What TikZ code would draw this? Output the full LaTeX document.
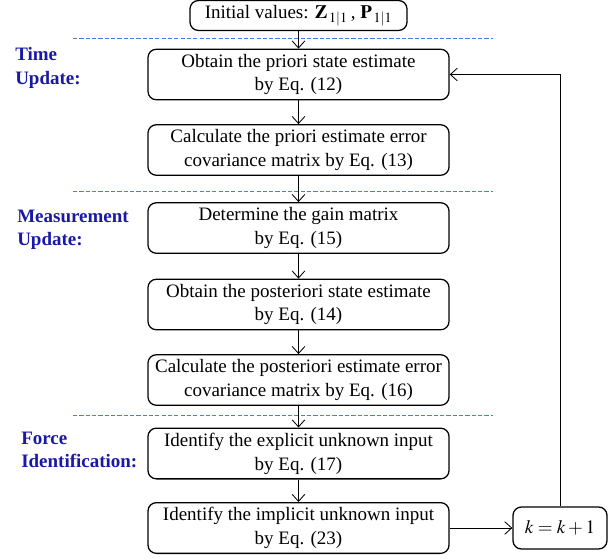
\documentclass[tikz,border=0pt]{standalone}
\usepackage{mathptmx}
\usepackage{fontspec}
\setmainfont{Liberation Serif}
\usetikzlibrary{arrows.meta, positioning}
\definecolor{labelblue}{RGB}{25,25,165}
\definecolor{sepblue}{RGB}{70,125,225}

\begin{document}
\begin{tikzpicture}[x=0.025cm, y=-0.025cm,
  every node/.style={font=\fontsize{13.5}{17}\selectfont},
  stepbox/.style={draw, line width=0.9pt, rounded corners=6pt, align=center,
    minimum width=7.525cm, minimum height=1.25cm, inner xsep=2pt},
  stagelabel/.style={anchor=west, align=left, inner sep=0pt, text=labelblue,
    font=\fontsize{13.5}{16.5}\selectfont\bfseries},
  separator/.style={sepblue, line width=0.6pt, dash pattern=on 3pt off 1.5pt},
  flow/.style={-{Straight Barb[length=5pt,width=9pt]}, semithick}]
  \useasboundingbox (0,0) rectangle (616,558);
  % ---------- initial values ----------
  \node[stepbox, minimum width=5.425cm, minimum height=0.675cm] (init) at (298.5,15.5)
    {Initial values: $\mathbf{Z}_{\,1|1}$\,, $\mathbf{P}_{\,1|1}$};
  % ---------- time update ----------
  \node[stepbox] (prioriest) at (298.5,74.5) {Obtain the priori state estimate\\by Eq. (12)};
  \node[stepbox] (prioricov) at (298.5,150) {Calculate the priori estimate error\\covariance matrix by Eq. (13)};
  % ---------- measurement update ----------
  \node[stepbox] (gain) at (298.5,228) {Determine the gain matrix\\by Eq. (15)};
  \node[stepbox] (postest) at (298.5,304.5) {Obtain the posteriori state estimate\\by Eq. (14)};
  \node[stepbox] (postcov) at (298.5,380) {Calculate the posteriori estimate error\\covariance matrix by Eq. (16)};
  % ---------- force identification ----------
  \node[stepbox] (explicit) at (298.5,453.5) {Identify the explicit unknown input\\by Eq. (17)};
  \node[stepbox] (implicit) at (298.5,528) {Identify the implicit unknown input\\by Eq. (23)};
  \node[stepbox, minimum width=2.35cm, minimum height=1.05cm] (kstep) at (560,528) {$k=k+1$};
  % ---------- stage labels and separators ----------
  \draw[separator] (73,38) -- (493,38);
  \draw[separator] (73,191) -- (493,191);
  \draw[separator] (73,415) -- (493,415);
  \node[stagelabel] (timelbl) at (15,68) {Time\\Update:};
  \node[stagelabel] (measlbl) at (17,230) {Measurement\\Update:};
  \node[stagelabel] (forcelbl) at (21,450) {Force\\Identification:};
  % ---------- connectors ----------
  \foreach \a/\b in {init/prioriest, prioriest/prioricov, prioricov/gain, gain/postest,
                     postest/postcov, postcov/explicit, explicit/implicit}
    \draw[flow] (\a) -- (\b);
  \draw[flow] (implicit) -- (kstep);
  \draw[flow] (kstep.north) |- (prioriest.east);
\end{tikzpicture}
\end{document}
